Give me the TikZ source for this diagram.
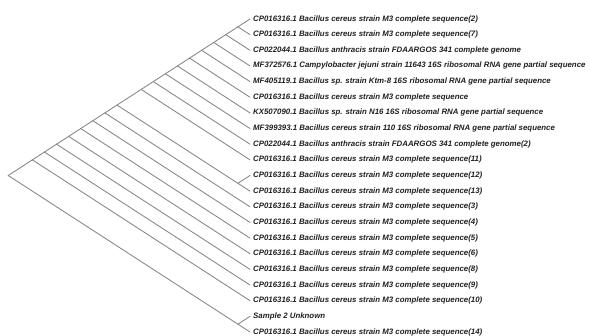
\documentclass[tikz,border=0pt]{standalone}
\usepackage{fontspec}
\setmainfont{Liberation Sans}
\begin{document}
\begin{tikzpicture}[x=1pt,y=-1pt,
  branch/.style={draw=black!48,line width=0.85pt,line cap=round},
  leaflabel/.style={anchor=west,inner sep=0pt,xshift=3pt,text=black!88,
    font=\fontsize{7.85}{9}\selectfont\bfseries\itshape}]
\useasboundingbox (0,0) rectangle (590,336);
% leaves
\foreach \i/\t in {
 0/{CP016316.1 Bacillus cereus strain M3 complete sequence(2)},
 1/{CP016316.1 Bacillus cereus strain M3 complete sequence(7)},
 2/{CP022044.1 Bacillus anthracis strain FDAARGOS 341 complete genome},
 3/{MF372576.1 Campylobacter jejuni strain 11643 16S ribosomal RNA gene partial sequence},
 4/{MF405119.1 Bacillus sp. strain Ktm-8 16S ribosomal RNA gene partial sequence},
 5/{CP016316.1 Bacillus cereus strain M3 complete sequence},
 6/{KX507090.1 Bacillus sp. strain N16 16S ribosomal RNA gene partial sequence},
 7/{MF399393.1 Bacillus cereus strain 110 16S ribosomal RNA gene partial sequence},
 8/{CP022044.1 Bacillus anthracis strain FDAARGOS 341 complete genome(2)},
 9/{CP016316.1 Bacillus cereus strain M3 complete sequence(11)},
 10/{CP016316.1 Bacillus cereus strain M3 complete sequence(12)},
 11/{CP016316.1 Bacillus cereus strain M3 complete sequence(13)},
 12/{CP016316.1 Bacillus cereus strain M3 complete sequence(3)},
 13/{CP016316.1 Bacillus cereus strain M3 complete sequence(4)},
 14/{CP016316.1 Bacillus cereus strain M3 complete sequence(5)},
 15/{CP016316.1 Bacillus cereus strain M3 complete sequence(6)},
 16/{CP016316.1 Bacillus cereus strain M3 complete sequence(8)},
 17/{CP016316.1 Bacillus cereus strain M3 complete sequence(9)},
 18/{CP016316.1 Bacillus cereus strain M3 complete sequence(10)},
 19/{Sample 2 Unknown},
 20/{CP016316.1 Bacillus cereus strain M3 complete sequence(14)}}{
  \coordinate (l\i) at (250,{19+15.65*\i});
  \node[leaflabel] (t\i) at (l\i) {\t};
}
% internal nodes
\coordinate (root) at (8.2,175.5);
\foreach \k in {1,...,9,11,12,...,18}{
  \coordinate (c\k) at ({250-12.09*\k},{19+7.825*\k});
}
\coordinate (p1011) at (237.9,183.3);
\coordinate (p1920) at (237.9,324.2);
% branches
\draw[branch] (root) -- (c18);
\draw[branch] (root) -- (p1920);
\draw[branch] (p1920) -- (l19);
\draw[branch] (p1920) -- (l20);
\foreach \k/\m in {18/17,17/16,16/15,15/14,14/13,13/12,12/11}{
  \draw[branch] (c\k) -- (c\m);
  \draw[branch] (c\k) -- (l\k);
}
\draw[branch] (c11) -- (c9);
\draw[branch] (c11) -- (p1011);
\draw[branch] (p1011) -- (l10);
\draw[branch] (p1011) -- (l11);
\foreach \k/\m in {9/8,8/7,7/6,6/5,5/4,4/3,3/2,2/1}{
  \draw[branch] (c\k) -- (c\m);
  \draw[branch] (c\k) -- (l\k);
}
\draw[branch] (c1) -- (l0);
\draw[branch] (c1) -- (l1);
\end{tikzpicture}
\end{document}
